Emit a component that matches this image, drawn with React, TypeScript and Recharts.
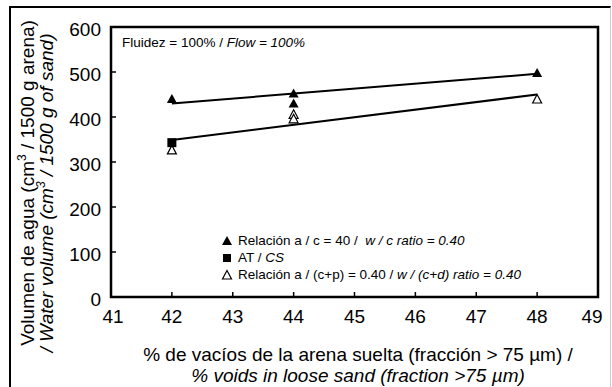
import React from 'react';
import { ScatterChart, Scatter, XAxis, YAxis, ReferenceArea, Legend } from 'recharts';

const FONT = '"Liberation Sans", Arial, sans-serif';

// points: x = % voids, y = water volume
const wcX = [42, 44, 44, 48];
const wcY = [440, 452, 430, 498];
const csX = [42];
const csY = [343];
const wcdX = [42, 44, 44, 48];
const wcdY = [327, 406, 396, 440];

// fitted trend lines (end points)
const upperLineX = [42, 48];
const upperLineY = [430, 496];
const lowerLineX = [42, 48];
const lowerLineY = [349, 450];

const xTicks = [41, 42, 43, 44, 45, 46, 47, 48, 49];
const yTicks = [0, 100, 200, 300, 400, 500, 600];

const legendItems = [
  { key: 'wc', es: 'Relación a / c = 40 /  ', en: 'w / c ratio = 0.40' },
  { key: 'cs', es: 'AT / ', en: 'CS' },
  { key: 'wcd', es: 'Relación a / (c+p) = 0.40 / ', en: 'w / (c+d) ratio = 0.40' },
];

const toPts = (xs: number[], ys: number[]) => xs.map((x, i) => ({ x, y: ys[i] }));

const FilledTri = ({ cx, cy }: any) => (
  <path d={`M${cx},${cy - 5} L${cx + 5},${cy + 4} L${cx - 5},${cy + 4} Z`} fill="#000" />
);
const Square = ({ cx, cy }: any) => (
  <rect x={cx - 4.5} y={cy - 4.5} width={9} height={9} fill="#000" />
);
const OpenTri = ({ cx, cy }: any) => (
  <path d={`M${cx},${cy - 4.5} L${cx + 4.5},${cy + 4} L${cx - 4.5},${cy + 4} Z`} fill="#fff" stroke="#000" strokeWidth={1.2} />
);
const NoDot = () => null;

const YTick = ({ x, y, payload }: any) => (
  <g>
    <line x1={x + 10} x2={x + 15} y1={y} y2={y} stroke="#000" strokeWidth={1.5} />
    <text x={x} y={y + 2} dy="0.35em" textAnchor="end" fontSize={19} fontFamily={FONT} fill="#000">
      {payload.value}
    </text>
  </g>
);

const XTick = ({ x, y, payload, index }: any) => {
  let tx = x;
  if (index === 0) tx = x + 2;
  if (index === xTicks.length - 1) tx = x - 6;
  return (
    <g>
      <line x1={x} x2={x} y1={y - 13} y2={y - 18} stroke="#000" strokeWidth={1.5} />
      <text x={tx} y={y} dy="0.71em" textAnchor="middle" fontSize={19} fontFamily={FONT} fill="#000">
        {payload.value}
      </text>
    </g>
  );
};

const marker = (key: string) => {
  if (key === 'wc') return <FilledTri cx={6} cy={7} />;
  if (key === 'cs') return <rect x={2} y={3} width={8} height={8} fill="#000" />;
  return <OpenTri cx={6} cy={7} />;
};

const LegendBox = () => (
  <div style={{ fontFamily: FONT, fontSize: 13.5, color: '#000' }}>
    {legendItems.map((it) => (
      <div key={it.key} style={{ display: 'flex', alignItems: 'center', height: 17.2, whiteSpace: 'pre' }}>
        <svg width={12} height={14} style={{ marginRight: 5 }}>{marker(it.key)}</svg>
        <span>{it.es}</span>
        <span style={{ fontStyle: 'italic' }}>{it.en}</span>
      </div>
    ))}
  </div>
);

export default function App() {
  return (
    <div style={{ position: 'absolute', left: 0, top: 0, width: 612, height: 387, background: '#fff', overflow: 'hidden', fontFamily: FONT }}>
      <div style={{ position: 'absolute', left: 9, top: 6, width: 599, height: 400, borderLeft: '2px solid #000', borderTop: '2px solid #000', borderRight: '1px solid #ccc' }} />
      <ScatterChart width={612} height={387} margin={{ top: 27, right: 14, bottom: 0, left: 0 }}>
        <XAxis
          type="number" dataKey="x" domain={[41, 49]} ticks={xTicks} interval={0}
          height={90} tickSize={0} tickMargin={13} tick={<XTick />}
          axisLine={{ stroke: '#000', strokeWidth: 2 }} allowDataOverflow
        />
        <YAxis
          type="number" dataKey="y" domain={[0, 600]} ticks={yTicks} interval={0}
          width={111} tickSize={0} tickMargin={10} tick={<YTick />}
          axisLine={{ stroke: '#000', strokeWidth: 2 }}
        />
        <ReferenceArea x1={41} x2={49} y1={0} y2={600} fill="none" stroke="#000" strokeWidth={2.5} />
        <Scatter data={toPts(upperLineX, upperLineY)} line={{ stroke: '#000', strokeWidth: 2 }} shape={<NoDot />} isAnimationActive={false} />
        <Scatter data={toPts(lowerLineX, lowerLineY)} line={{ stroke: '#000', strokeWidth: 2 }} shape={<NoDot />} isAnimationActive={false} />
        <Scatter data={toPts(wcdX, wcdY)} shape={<OpenTri />} isAnimationActive={false} />
        <Scatter data={toPts(csX, csY)} shape={<Square />} isAnimationActive={false} />
        <Scatter data={toPts(wcX, wcY)} shape={<FilledTri />} isAnimationActive={false} />
        <Legend
          layout="vertical" align="center" verticalAlign="middle"
          content={<LegendBox />}
          wrapperStyle={{ position: 'absolute', left: 221, top: 232, width: 320 }}
        />
      </ScatterChart>
      <div style={{ position: 'absolute', left: 122, top: 35, fontSize: 13.5, whiteSpace: 'pre' }}>
        Fluidez = 100% / <i>Flow = 100%</i>
      </div>
      <div style={{ position: 'absolute', left: 27, top: 183, width: 0, height: 0 }}>
        <div style={{ position: 'absolute', transform: 'translate(-50%, -50%) rotate(-90deg)', whiteSpace: 'pre', fontSize: 19, lineHeight: '19px' }}>
          Volumen de agua (cm<sup style={{ fontSize: 12, lineHeight: 0 }}>3</sup> / 1500 g arena)
        </div>
      </div>
      <div style={{ position: 'absolute', left: 46, top: 193, width: 0, height: 0 }}>
        <div style={{ position: 'absolute', transform: 'translate(-50%, -50%) rotate(-90deg)', whiteSpace: 'pre', fontSize: 19, lineHeight: '19px', fontStyle: 'italic' }}>
          / Water volume (cm<sup style={{ fontSize: 12, lineHeight: 0 }}>3</sup> / 1500 g of sand)
        </div>
      </div>
      <div style={{ position: 'absolute', left: 0, width: 612, top: 344, textAlign: 'center', fontSize: 19, lineHeight: '21px', paddingLeft: 104, boxSizing: 'border-box' }}>
        % de vacíos de la arena suelta (fracción &gt; 75 µm) /<br />
        <i>% voids in loose sand (fraction &gt;75 µm)</i>
      </div>
    </div>
  );
}
